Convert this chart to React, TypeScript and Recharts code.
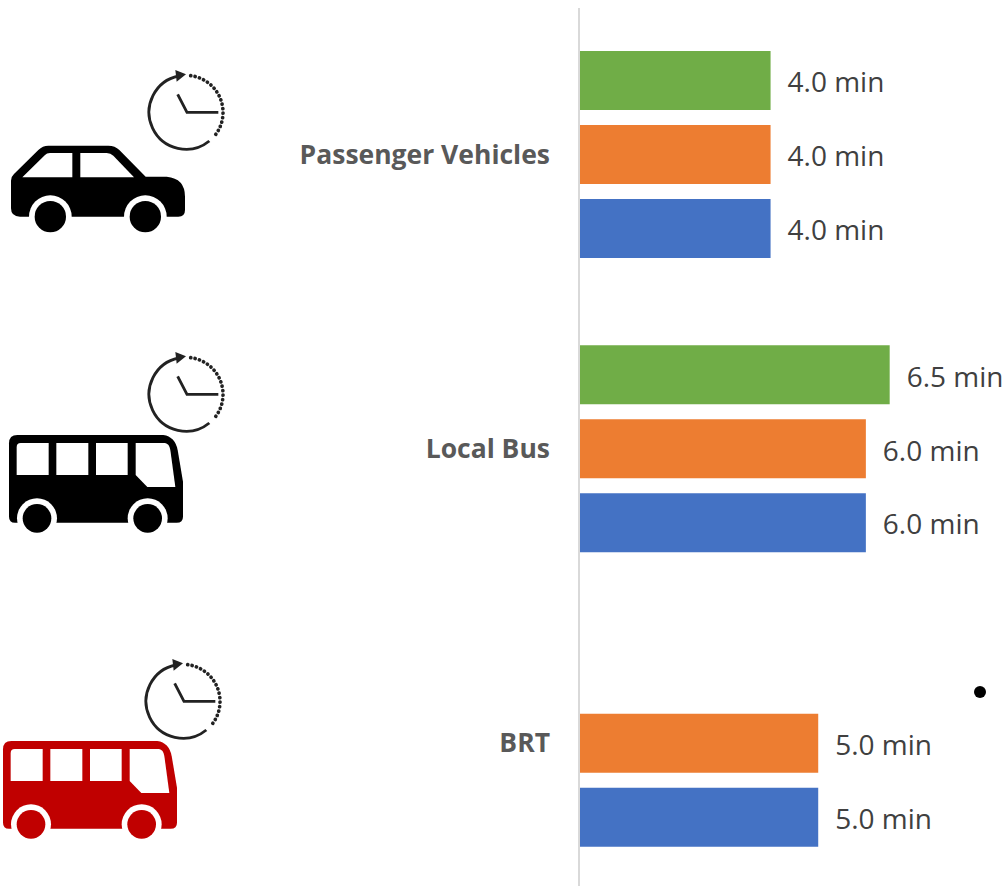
import { BarChart, Bar, XAxis, YAxis, LabelList } from "recharts";

const categories = ["Passenger Vehicles", "Local Bus", "BRT"];
const greenValues = [4.0, 6.5, null];
const orangeValues = [4.0, 6.0, 5.0];
const blueValues = [4.0, 6.0, 5.0];

const data = categories.map((name, i) => ({
  name,
  green: greenValues[i],
  orange: orangeValues[i],
  blue: blueValues[i],
}));

const FONT = "'Open Sans', sans-serif";
const formatMin = (v: any) => (v == null ? "" : `${Number(v).toFixed(1)} min`);

// icon paths are in 3x units, taken from zoomed crops
const Car = ({ x, y }: { x: number; y: number }) => (
  <g transform={`translate(${x},${y}) scale(${1 / 3})`}>
    <path
      d="M33 362 Q33 350 42 342 L115 270 Q128 257 145 257 L325 257 Q345 257 358 270 L437 350 L500 350 Q555 355 555 410 L555 450 Q555 470 535 470 L60 470 Q33 470 33 445 Z"
      fill="#000"
    />
    <path d="M67 352 L135 285 Q140 279 150 279 L217 279 L217 352 Z" fill="#fff" />
    <path d="M241 279 L320 279 Q332 279 340 287 L402 352 L241 352 Z" fill="#fff" />
    <Wheels cx1={151} cx2={436} cy={470} rOuter={64} rInner={47} color="#000" />
  </g>
);

const Wheels = ({ cx1, cx2, cy, rOuter, rInner, color }: any) => (
  <>
    <circle cx={cx1} cy={cy} r={rOuter} fill="#fff" />
    <circle cx={cx2} cy={cy} r={rOuter} fill="#fff" />
    <circle cx={cx1} cy={cy} r={rInner} fill={color} />
    <circle cx={cx2} cy={cy} r={rInner} fill={color} />
  </>
);

const Bus = ({ x, y, color }: { x: number; y: number; color: string }) => (
  <g transform={`translate(${x},${y}) scale(${1 / 3})`}>
    <path
      d="M27 295 Q27 270 52 270 L490 270 Q525 275 533 315 L549 410 L549 515 Q549 533 530 533 L45 533 Q27 533 27 515 Z"
      fill={color}
    />
    <path d="M50 390 L50 306 Q50 294 62 294 L146 294 L146 390 Z" fill="#fff" />
    <rect x={169} y={294} width={96} height={96} fill="#fff" />
    <rect x={288} y={294} width={95} height={96} fill="#fff" />
    <path d="M407 294 L495 294 Q508 296 511 315 L526 426 L442 426 L407 390 Z" fill="#fff" />
    <Wheels cx1={111} cx2={443} cy={520} rOuter={60} rInner={43} color={color} />
  </g>
);

const Clock = ({ x, y }: { x: number; y: number }) => (
  <g transform={`translate(${x},${y}) scale(${1 / 3})`} fill="none" stroke="#222">
    <path d="M536 48 A111 111 0 1 0 628 243" strokeWidth={8.5} />
    <path
      d="M572 47 A111 111 0 0 1 640 232"
      strokeWidth={11}
      strokeLinecap="round"
      strokeDasharray="0.5 13"
    />
    <path d="M526 30 L558 43 L530 65 Z" fill="#222" stroke="none" />
    <path d="M533 103 L561 157 L655 157" strokeWidth={8.5} />
  </g>
);

export default function App() {
  return (
    <div
      style={{
        position: "absolute",
        left: 0,
        top: 0,
        width: 1005,
        height: 886,
        overflow: "hidden",
        background: "#fff",
        fontFamily: FONT,
      }}
    >
      <BarChart
        width={1008.8}
        height={890}
        data={data}
        layout="vertical"
        margin={{ top: 7, right: 0, bottom: 0, left: 0 }}
        barSize={59}
        barGap={15}
      >
        <XAxis type="number" domain={[0, 9]} hide />
        <YAxis
          type="category"
          dataKey="name"
          width={580}
          axisLine={false}
          tickLine={false}
          tickMargin={24}
          interval={0}
          tick={{ fill: "#595959", fontSize: 26.5, fontWeight: 700, fontFamily: FONT }}
        />
        <Bar dataKey="green" fill="#70ad47" isAnimationActive={false}>
          <LabelList dataKey="green" position="right" offset={17} dy={2} formatter={formatMin} fill="#404040" fontSize={28} fontFamily={FONT} />
        </Bar>
        <Bar dataKey="orange" fill="#ed7d31" isAnimationActive={false}>
          <LabelList dataKey="orange" position="right" offset={17} dy={2} formatter={formatMin} fill="#404040" fontSize={28} fontFamily={FONT} />
        </Bar>
        <Bar dataKey="blue" fill="#4472c4" isAnimationActive={false}>
          <LabelList dataKey="blue" position="right" offset={17} dy={1.5} formatter={formatMin} fill="#404040" fontSize={28} fontFamily={FONT} />
        </Bar>
      </BarChart>
      <svg
        width={1005}
        height={886}
        style={{ position: "absolute", left: 0, top: 0, pointerEvents: "none" }}
      >
        <line x1={579} x2={579} y1={8} y2={886} stroke="#d9d9d9" strokeWidth={2} />
        <circle cx={980} cy={692} r={6} fill="#000" />
        <Car x={0} y={60} />
        <Clock x={0} y={60} />
        <Bus x={0} y={345} color="#000" />
        <Clock x={0} y={342} />
        <Bus x={-6} y={651} color="#c00000" />
        <Clock x={-3} y={649} />
      </svg>
    </div>
  );
}
